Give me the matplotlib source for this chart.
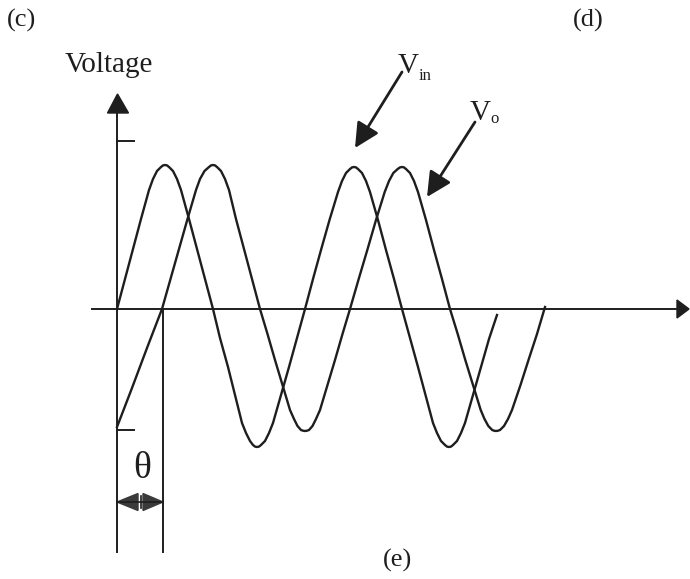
import matplotlib
matplotlib.use("Agg")
import matplotlib.pyplot as plt
from matplotlib.patches import Polygon

# ---- data (time offset t, voltage v) ----
vin_t = [0, 8, 16, 24, 32, 36, 40, 44, 46, 48,
         50, 52, 56, 60, 64, 72, 80, 88, 96,
         103, 111, 118, 125, 129, 133, 136, 138, 140,
         142, 144, 148, 152, 156, 164, 172, 180, 188,
         196, 204, 212.5, 221, 225, 229, 233, 235, 237,
         239, 241, 245, 249, 253, 261, 269, 277, 285,
         293, 301, 308.5, 316, 320, 324, 328, 330, 332,
         334, 336, 340, 344, 348, 356, 364, 372, 380]
vin_v = [0, 30, 60, 90, 119, 130, 138, 142, 143.6, 144,
         143.6, 142, 138, 130, 119, 90, 60, 30, 0,
         -29, -58, -86, -114, -124, -132, -136, -137.6, -138,
         -137.6, -136, -132, -124, -114, -86, -58, -29, 0,
         30, 59, 89, 117, 128, 136, 140, 141.6, 142,
         141.6, 140, 136, 128, 117, 89, 59, 30, 0,
         -29, -58, -86, -114, -124, -132, -136, -137.6, -138,
         -137.6, -136, -132, -124, -114, -86, -58, -30, -6]

vo_t = [0, 15, 30, 45,
        53.5, 62, 70.5, 79, 83, 87.5, 92, 94, 96,
        98, 100, 104, 108, 112, 119, 127, 135, 143,
        150.5, 158, 165.5, 173, 177, 180.5, 184, 186, 188,
        190, 192, 195.5, 199, 203, 210.5, 218, 225.5, 233,
        241.7, 250.3, 259, 267.7, 272, 276.3, 280.7, 283, 285,
        287, 289, 293, 297, 301, 309, 317, 325, 333,
        340.7, 348.3, 356, 363.7, 367.5, 371.3, 375.2, 377, 379,
        381, 383, 387, 391, 395, 403.5, 411.5, 420, 428]
vo_v = [-118, -79, -39, 0,
        30, 60, 90, 119, 130, 138, 142, 143.6, 144,
        143.6, 142, 138, 130, 119, 90, 60, 30, 0,
        -25, -51, -76, -101, -110, -117, -121, -121.7, -122,
        -121.7, -121, -117, -110, -101, -76, -51, -25, 0,
        30, 59, 89, 117, 128, 136, 140, 141.6, 142,
        141.6, 140, 136, 128, 117, 89, 59, 30, 0,
        -25, -51, -76, -101, -110, -117, -121, -121.7, -122,
        -121.7, -121, -117, -110, -101, -76, -51, -25, 2]

theta_t = 46          # phase shift marker position
tick_levels = [168, -121]
labels = {"c": "(c)", "d": "(d)", "e": "(e)"}

ink = "#1e1e1e"
fig = plt.figure(figsize=(6.9, 5.79), dpi=100)
ax = fig.add_axes([0, 0, 1, 1])
ax.set_xlim(-117, 573)
ax.set_ylim(-270, 309)
ax.axis("off")

serif = "Liberation Serif"

# axes
ax.plot([-25, 562], [0, 0], color=ink, lw=1.4)
ax.add_patch(Polygon([[572, 0], [560, 9], [560, -9]], closed=True, color=ink))
ax.plot([0, 0], [-243, 197], color=ink, lw=1.4)
ax.add_patch(Polygon([[0.5, 215], [-9.5, 196], [11.5, 196]], closed=True, color=ink))
ax.plot([theta_t, theta_t], [0, -243], color=ink, lw=1.4)
for lv in tick_levels:
    ax.plot([0, 17], [lv, lv], color=ink, lw=1.4)

# waveforms
ax.plot(vin_t, vin_v, color=ink, lw=1.7, solid_joinstyle="round")
ax.plot(vo_t, vo_v, color=ink, lw=1.7, solid_joinstyle="round")

# theta double arrow
ya = -193
ax.plot([0, theta_t], [ya, ya], color=ink, lw=1.2)
ax.add_patch(Polygon([[0, ya], [21, ya + 8.5], [21, ya - 8.5]], closed=True, color="#3a3a3a"))
ax.add_patch(Polygon([[theta_t, ya], [theta_t - 20, ya + 8.5], [theta_t - 20, ya - 8.5]],
                     closed=True, color="#3a3a3a"))
ax.plot([23.5, 23.5], [ya + 6, ya - 6], color=ink, lw=1.2)
ax.text(25, -160, "θ", fontsize=27, family=serif, ha="center", va="center", color=ink)

# label arrows
ap = dict(arrowstyle="-|>,head_length=1.5,head_width=0.75", mutation_scale=10,
          color=ink, lw=2.0, shrinkA=0, shrinkB=0)
ax.annotate("", xy=(238, 161), xytext=(285, 237), arrowprops=ap)
ax.annotate("", xy=(310, 112), xytext=(358, 187), arrowprops=ap)

# texts
ax.text(281, 236, "V", fontsize=21, family=serif, ha="left", va="baseline", color=ink)
ax.text(302, 229, "in", fontsize=12, family=serif, ha="left", va="baseline", color=ink)
ax.text(353, 189, "V", fontsize=21, family=serif, ha="left", va="baseline", color=ink)
ax.text(373, 186, "o", fontsize=12, family=serif, ha="left", va="baseline", color=ink)
ax.text(-52, 237, "Voltage", fontsize=21, family=serif, ha="left", va="baseline", color=ink)
ax.text(-96, 289, labels["c"], fontsize=19, family=serif, ha="center", va="center", color=ink)
ax.text(471, 289, labels["d"], fontsize=19, family=serif, ha="center", va="center", color=ink)
ax.text(280, -251, labels["e"], fontsize=19, family=serif, ha="center", va="center", color=ink)

fig.savefig("out.png", dpi=100)
